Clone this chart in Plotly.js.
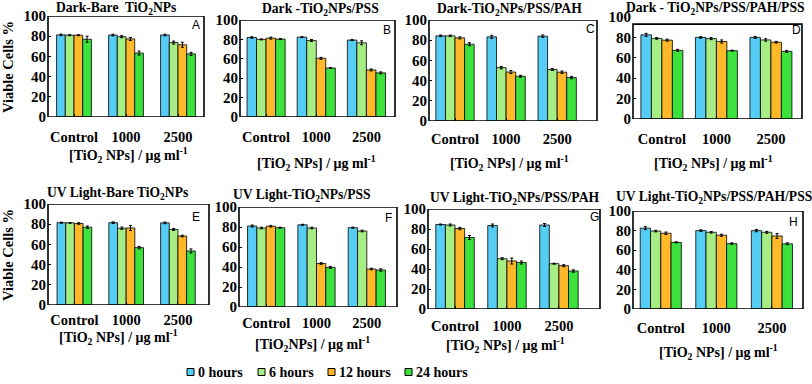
<!DOCTYPE html>
<html>
<head>
<meta charset="utf-8">
<script src="https://cdn.plot.ly/plotly-3.0.1.min.js"></script>
<style>
  html, body { margin: 0; padding: 0; background: #fff; }
  #chart { width: 812px; height: 384px; }
</style>
</head>
<body>
<div id="chart"></div>
<script>
// ==================================================
// Data (viable cells %), rows = 0 / 6 / 12 / 24 hours, cols = categories
// ==================================================

const categories = ["Control", "1000", "2500"];
const seriesNames = ["0 hours", "6 hours", "12 hours", "24 hours"];
const seriesColors = ["#55CDF4", "#A6EE84", "#FFB82A", "#3CE23C"];
const yTicks = [0, 20, 40, 60, 80, 100];

const darkBare = [[81.3, 81.1, 81.2], [81.0, 79.5, 73.7], [81.0, 77.3, 71.5], [77.0, 63.3, 62.5]];
const darkBareErr = [[0.8, 0.8, 0.8], [0.5, 1.0, 1.5], [0.5, 1.5, 2.5], [3.0, 2.0, 1.5]];

const darkPSS = [[82.0, 82.3, 79.3], [80.0, 78.8, 76.5], [81.3, 60.5, 48.5], [80.3, 50.5, 45.5]];
const darkPSSErr = [[0.8, 0.5, 0.5], [0.5, 1.0, 2.0], [1.0, 1.0, 1.0], [0.5, 0.5, 1.0]];

const darkPSSPAH = [[84.3, 83.3, 84.0], [84.3, 52.8, 51.0], [82.3, 48.5, 48.3], [76.0, 44.3, 43.0]];
const darkPSSPAHErr = [[0.8, 1.5, 1.2], [0.8, 1.2, 1.0], [1.0, 1.5, 1.2], [1.5, 1.0, 1.2]];

const darkPSSPAHPSS = [[82.5, 80.0, 80.0], [79.0, 78.8, 77.5], [77.3, 76.0, 75.3], [67.3, 67.0, 66.3]];
const darkPSSPAHPSSErr = [[1.5, 0.8, 1.0], [0.8, 1.0, 1.2], [1.0, 1.5, 0.8], [1.0, 0.5, 1.0]];

const uvBare = [[81.5, 81.5, 81.3], [81.3, 76.0, 74.8], [80.7, 76.3, 68.3], [77.0, 56.8, 53.5]];
const uvBareErr = [[0.5, 0.8, 0.8], [0.3, 1.2, 1.0], [0.8, 2.5, 0.8], [1.2, 1.2, 2.0]];

const uvPSS = [[81.0, 82.2, 79.3], [79.0, 79.0, 76.0], [80.8, 43.5, 38.0], [79.3, 39.6, 37.0]];
const uvPSSErr = [[1.0, 0.5, 0.5], [0.8, 0.8, 0.8], [0.8, 0.8, 0.8], [0.5, 1.0, 1.2]];

const uvPSSPAH = [[84.5, 83.5, 84.0], [84.0, 50.3, 45.3], [80.5, 48.0, 43.3], [71.5, 46.5, 38.0]];
const uvPSSPAHErr = [[0.5, 1.5, 1.5], [1.0, 1.0, 0.5], [1.2, 3.0, 1.0], [2.0, 1.5, 1.2]];

const uvPSSPAHPSS = [[82.5, 80.0, 80.0], [79.5, 78.3, 78.3], [77.3, 75.3, 74.5], [68.0, 66.7, 66.5]];
const uvPSSPAHPSSErr = [[1.5, 0.8, 1.2], [0.8, 0.8, 1.0], [1.2, 1.0, 2.5], [0.5, 0.8, 1.0]];

const panelValues = [darkBare, darkPSS, darkPSSPAH, darkPSSPAHPSS, uvBare, uvPSS, uvPSSPAH, uvPSSPAHPSS];
const panelErrors = [darkBareErr, darkPSSErr, darkPSSPAHErr, darkPSSPAHPSSErr, uvBareErr, uvPSSErr, uvPSSPAHErr, uvPSSPAHPSSErr];

const panelLetters = ["A", "B", "C", "D", "E", "F", "G", "H"];
const panelTitles = [
  "Dark-Bare  TiO<sub>2</sub>NPs",
  "Dark -TiO<sub>2</sub>NPs/PSS",
  "Dark-TiO<sub>2</sub>NPs/PSS/PAH",
  "Dark - TiO<sub>2</sub>NPs/PSS/PAH/PSS",
  "UV Light-Bare TiO<sub>2</sub>NPs",
  "UV Light-TiO<sub>2</sub>NPs/PSS",
  "UV Light-TiO<sub>2</sub>NPs/PSS/PAH",
  "UV Light-TiO<sub>2</sub>NPs/PSS/PAH/PSS",
];
const xTitleSpaced = "[TiO<sub>2</sub> NPs] / μg ml<sup>-1</sup>";
const xTitleTight = "[TiO<sub>2</sub>NPs] / μg ml<sup>-1</sup>";
const yTitle = "Viable Cells %";

// ==================================================
// Panel geometry (pixels in the 812x384 canvas)
// ==================================================

const W = 812, H = 384;
const px = x => x / W;
const py = y => 1 - y / H;

const panels = [
  { x0: 48,  x1: 204, y100: 16,  y0: 117, top: 100, range: [-0.5, 2.5],   group: 0.67, standoff: 9,
    title: [116, 8],   letter: [196, 25],  xTitle: [128, 155, xTitleSpaced] },
  { x0: 240, x1: 395, y100: 20,  y0: 117, top: 100, range: [-0.52, 2.57], group: 0.76, standoff: 9,
    title: [320, 10],  letter: [387, 30],  xTitle: [316, 163, xTitleSpaced] },
  { x0: 429, x1: 597, y100: 20,  y0: 121, top: 100, range: [-0.51, 2.78], group: 0.75, standoff: 7,
    title: [509, 10],  letter: [590, 29],  xTitle: [510, 163, xTitleSpaced] },
  { x0: 633, x1: 802, y100: 17,  y0: 119, top: 93,  range: [-0.53, 2.57], group: 0.77, standoff: 9,
    title: [715, 8],   letter: [796, 30],  xTitle: [713, 163, xTitleSpaced] },
  { x0: 48,  x1: 209, y100: 204, y0: 305, top: 100, range: [-0.51, 2.6],  group: 0.67, standoff: 4,
    title: [118, 193], letter: [196, 217], xTitle: [119, 337, xTitleSpaced] },
  { x0: 239, x1: 397, y100: 207, y0: 307, top: 100, range: [-0.54, 2.6],  group: 0.74, standoff: 5,
    title: [302, 195], letter: [388, 218], xTitle: [312, 344, xTitleTight] },
  { x0: 428, x1: 600, y100: 209, y0: 309, top: 100, range: [-0.52, 2.79], group: 0.74, standoff: 6,
    title: [514, 198], letter: [594, 217], xTitle: [505, 345, xTitleSpaced] },
  { x0: 633, x1: 803, y100: 211, y0: 309, top: 100, range: [-0.5, 2.56],  group: 0.74, standoff: 8,
    title: [714, 197], letter: [793, 222], xTitle: [718, 352, xTitleSpaced] },
];

// legend key: left edge of each swatch, shared vertical centre
const legendX = [187, 258, 328, 405];
const legendY = 372;

const serif = "Liberation Serif, Times New Roman, serif";
const sans = "Liberation Sans, Arial, sans-serif";

// ==================================================
// Build traces + axes
// ==================================================

const traces = [];
const layout = {
  width: W,
  height: H,
  margin: { l: 0, r: 0, t: 0, b: 0 },
  paper_bgcolor: "#fff",
  plot_bgcolor: "rgba(0,0,0,0)",
  barmode: "overlay",
  showlegend: false,
  font: { family: serif, color: "#000" },
  shapes: [],
  annotations: [],
};

panels.forEach((p, i) => {
  const n = i === 0 ? "" : String(i + 1);
  const bw = p.group / seriesNames.length;

  seriesNames.forEach((name, s) => {
    traces.push({
      type: "bar",
      name: name,
      x: categories,
      y: panelValues[i][s],
      width: bw,
      offset: -p.group / 2 + s * bw,
      marker: { color: seriesColors[s], line: { color: "#000", width: 0.8 } },
      error_y: { type: "data", array: panelErrors[i][s], color: "#000", thickness: 1, width: 1.5 },
      xaxis: "x" + n,
      yaxis: "y" + n,
    });
  });

  layout["xaxis" + n] = {
    domain: [px(p.x0), px(p.x1)],
    anchor: "y" + n,
    type: "category",
    range: p.range,
    showgrid: false,
    zeroline: false,
    showline: false,
    ticks: "inside",
    ticklen: 3,
    tickcolor: "#000",
    ticklabelstandoff: p.standoff,
    tickfont: { family: serif, size: 14.5, weight: "bold", color: "#000" },
    fixedrange: true,
  };

  layout["yaxis" + n] = {
    domain: [py(p.y0), py(p.y100)],
    anchor: "x" + n,
    range: [0, 100],
    tickvals: yTicks,
    showgrid: false,
    zeroline: false,
    showline: false,
    ticks: "inside",
    ticklen: 3,
    tickcolor: "#000",
    ticklabelstandoff: 1,
    tickfont: { family: serif, size: 15, weight: "bold", color: "#000" },
    fixedrange: true,
  };

  // frame
  layout.shapes.push({
    type: "rect",
    xref: "x" + n + " domain", yref: "y" + n,
    x0: 0, x1: 1, y0: 0, y1: p.top,
    line: { color: "#000", width: 1.6 },
    fillcolor: "rgba(0,0,0,0)",
  });

  layout.annotations.push(
    {
      text: "<b>" + panelTitles[i] + "</b>",
      x: px(p.title[0]), y: py(p.title[1]), xref: "paper", yref: "paper",
      xanchor: "center", yanchor: "middle", showarrow: false,
      font: { family: serif, size: 13.6, color: "#000" },
    },
    {
      text: panelLetters[i],
      x: px(p.letter[0]), y: py(p.letter[1]), xref: "paper", yref: "paper",
      xanchor: "center", yanchor: "middle", showarrow: false,
      font: { family: sans, size: 12, color: "#000" },
    },
    {
      text: "<b>" + p.xTitle[2] + "</b>",
      x: px(p.xTitle[0]), y: py(p.xTitle[1]), xref: "paper", yref: "paper",
      xanchor: "center", yanchor: "middle", showarrow: false,
      font: { family: serif, size: 14, color: "#000" },
    }
  );
});

// y-axis titles, one per row
[67, 255].forEach(yc => {
  layout.annotations.push({
    text: "<b>" + yTitle + "</b>",
    x: px(8), y: py(yc), xref: "paper", yref: "paper",
    xanchor: "center", yanchor: "middle", textangle: -90, showarrow: false,
    font: { family: serif, size: 14.5, color: "#000" },
  });
});

// ==================================================
// Legend key along the bottom
// ==================================================

seriesNames.forEach((name, s) => {
  const x = legendX[s];
  layout.shapes.push({
    type: "rect", xref: "paper", yref: "paper",
    x0: px(x), x1: px(x + 7), y0: py(legendY + 3.5), y1: py(legendY - 3.5),
    fillcolor: seriesColors[s],
    line: { color: "#000", width: 1 },
  });
  layout.annotations.push({
    text: "<b>" + name + "</b>",
    x: px(x + 9), y: py(legendY), xref: "paper", yref: "paper",
    xanchor: "left", yanchor: "middle", showarrow: false,
    font: { family: serif, size: 14, color: "#000" },
  });
});

Plotly.newPlot("chart", traces, layout, { displayModeBar: false, staticPlot: true });
</script>
</body>
</html>
